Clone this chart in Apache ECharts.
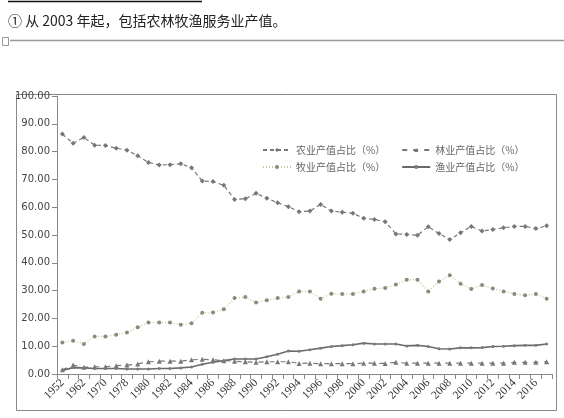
<!DOCTYPE html>
<html>
<head>
<meta charset="utf-8">
<script src="https://cdn.jsdelivr.net/npm/echarts@6/dist/echarts.min.js"></script>
<style>
html,body{margin:0;padding:0;background:#fff;}
#c{width:564px;height:418px;}
</style>
</head>
<body>
<div id="c"></div>
<script>
const categories = ['1952','1957','1962','1965','1970','1975','1978','1979','1980','1981','1982','1983','1984','1985','1986','1987','1988','1989','1990','1991','1992','1993','1994','1995','1996','1997','1998','1999','2000','2001','2002','2003','2004','2005','2006','2007','2008','2009','2010','2011','2012','2013','2014','2015','2016','2017'];
const seriesNames = ['农业产值占比（%）','林业产值占比（%）','牧业产值占比（%）','渔业产值占比（%）'];
const agriculture = [86.3,83.0,85.1,82.3,82.2,81.2,80.5,78.5,76.1,75.2,75.3,75.6,74.2,69.4,69.2,67.9,62.8,63.0,65.0,63.2,61.6,60.2,58.4,58.6,61.0,58.6,58.2,57.8,56.0,55.6,54.8,50.4,50.2,49.9,53.0,50.5,48.4,50.8,53.1,51.4,52.0,52.6,53.1,53.1,52.3,53.3];
const forestry = [1.5,3.2,2.4,2.6,2.6,3.0,3.2,3.6,4.4,4.6,4.6,4.6,5.1,5.3,5.1,4.8,4.6,4.4,4.2,4.4,4.4,4.4,3.8,3.9,3.7,3.7,3.7,3.7,3.9,3.9,3.8,4.2,3.9,3.9,3.9,3.9,3.9,3.9,3.9,3.9,3.9,3.9,4.2,4.2,4.2,4.4];
const husbandry = [11.3,12.0,10.8,13.5,13.5,14.1,14.9,16.8,18.5,18.5,18.5,17.7,18.3,22.0,22.1,23.3,27.3,27.7,25.7,26.5,27.3,27.7,29.7,29.7,27.1,28.9,28.8,28.8,29.7,30.7,30.9,32.2,33.9,33.9,29.7,33.3,35.5,32.5,30.6,32.0,30.8,29.7,28.8,28.3,28.8,27.1];
const fishery = [1.3,2.3,2.2,2.0,2.0,2.0,1.8,1.8,1.8,2.0,2.0,2.2,2.5,3.5,4.2,4.8,5.4,5.4,5.4,6.2,7.1,8.3,8.2,8.7,9.3,9.9,10.2,10.5,11.1,10.8,10.8,10.8,10.1,10.3,9.9,9.1,9.0,9.4,9.4,9.5,9.9,10.0,10.2,10.3,10.3,10.8];
const noteText = '① 从 2003 年起，包括农林牧渔服务业产值。';

const chart = echarts.init(document.getElementById('c'));
const legendText = {fontSize:10, color:'#666', fontFamily:'"Noto Sans CJK SC", sans-serif'};
chart.setOption({
  animation:false,
  backgroundColor:'#fff',
  graphic:[
    {type:'line', shape:{x1:8,y1:1.5,x2:202,y2:1.5}, style:{stroke:'#111',lineWidth:1.5}, z:0},
    {type:'text', left:8, top:14, style:{text:noteText, fontSize:14, fill:'#222', fontFamily:'"Noto Sans CJK SC", sans-serif'}},
    {type:'line', shape:{x1:10,y1:40.5,x2:564,y2:40.5}, style:{stroke:'#999',lineWidth:1.5}},
    {type:'rect', shape:{x:2.5,y:37.5,width:6,height:8}, style:{fill:'none',stroke:'#999',lineWidth:1}},
    {type:'rect', shape:{x:16.5,y:94.5,width:540,height:316}, style:{fill:'none',stroke:'#888',lineWidth:1}, z:-1}
  ],
  legend:[
    {data:[seriesNames[0],seriesNames[1]], left:257, top:140, itemWidth:28, itemHeight:5, itemGap:16, textStyle:legendText},
    {data:[seriesNames[2],seriesNames[3]], left:257, top:157, itemWidth:28, itemHeight:5, itemGap:16, textStyle:legendText}
  ],
  grid:{left:57, right:12, top:96, bottom:44},
  xAxis:{
    type:'category', data:categories, boundaryGap:true,
    axisLine:{lineStyle:{color:'#888'}},
    axisTick:{show:true, interval:0, length:5, lineStyle:{color:'#888'}},
    axisLabel:{interval:1, rotate:45, fontSize:11.5, color:'#333', fontFamily:'"Liberation Serif", serif', margin:7}
  },
  yAxis:{
    type:'value', min:0, max:100, interval:10,
    axisLine:{show:true, lineStyle:{color:'#888'}},
    axisTick:{show:true, length:5, lineStyle:{color:'#888'}},
    splitLine:{show:false},
    axisLabel:{fontSize:10, color:'#444', margin:7, fontFamily:'"DejaVu Sans", sans-serif', formatter:v=>v.toFixed(2)}
  },
  series:[
    {name:seriesNames[0], type:'line', data:agriculture, symbol:'diamond', symbolSize:5,
      lineStyle:{color:'#777', type:[4,3], width:1.2}, itemStyle:{color:'#777'}},
    {name:seriesNames[1], type:'line', data:forestry, symbol:'triangle', symbolSize:5,
      lineStyle:{color:'#777', type:[5,6], width:1.2}, itemStyle:{color:'#777'}},
    {name:seriesNames[2], type:'line', data:husbandry, symbol:'circle', symbolSize:4,
      lineStyle:{color:'#c9c39a', type:[1,2], width:1.3}, itemStyle:{color:'#8c8a78'}},
    {name:seriesNames[3], type:'line', data:fishery, symbol:'circle', symbolSize:3,
      lineStyle:{color:'#6a6a6a', width:1.6}, itemStyle:{color:'#7a7a7a'}}
  ]
});
</script>
</body>
</html>
